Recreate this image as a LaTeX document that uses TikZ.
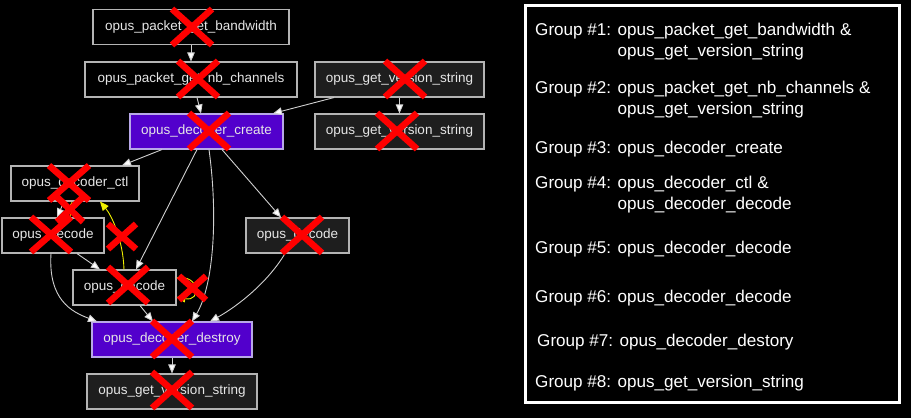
\documentclass[tikz,border=0pt]{standalone}
\usepackage{fontspec}
\setmainfont{Liberation Sans}
\usetikzlibrary{arrows.meta}
\definecolor{nodeborder}{HTML}{B4B4B4}
\definecolor{nodetext}{HTML}{E6E6E6}
\definecolor{darkfill}{HTML}{1E1E1E}
\definecolor{purplefill}{HTML}{5200CC}
\definecolor{purpleborder}{HTML}{B8A8E8}
\definecolor{edgegray}{HTML}{D0D0D0}
\definecolor{edgeyellow}{HTML}{F0F000}
\definecolor{crossred}{HTML}{FF0000}
\begin{document}
\begin{tikzpicture}[x=1pt,y=-1pt,
  fn/.style={draw=nodeborder, line width=1.1pt, fill=black, text=nodetext,
    font=\fontsize{13.5}{16}\selectfont, inner sep=0pt, minimum height=35pt},
  dark/.style={fn, fill=darkfill},
  purp/.style={fn, fill=purplefill, draw=purpleborder},
  edge/.style={draw=edgegray, line width=0.9pt,
    -{Triangle[width=7.5pt,length=9pt,fill=white]}},
  yedge/.style={draw=edgeyellow, line width=0.9pt,
    -{Triangle[width=7.5pt,length=9pt,fill=edgeyellow]}},
  xmark/.style={draw=crossred, line width=6.5pt},
  glabel/.style={text=white, font=\fontsize{17.1}{20}\selectfont, anchor=base west, inner sep=0pt}
]
\fill[black] (0,0) rectangle (911,418);
\useasboundingbox (0,0) rectangle (911,418);

% graph nodes
\node[fn,   minimum width=196pt] (bw)  at (191,27)    {opus\_packet\_get\_bandwidth};
\node[fn,   minimum width=212pt] (nb)  at (191,79.5)  {opus\_packet\_get\_nb\_channels};
\node[dark, minimum width=169pt] (v1)  at (399.5,79.5){opus\_get\_version\_string};
\node[purp, minimum width=153pt] (cr)  at (206.5,131.5){opus\_decoder\_create};
\node[dark, minimum width=169pt] (v2)  at (399.5,131.5){opus\_get\_version\_string};
\node[fn,   minimum width=128pt] (ctl) at (75,183.5)  {opus\_decoder\_ctl};
\node[fn,   minimum width=102pt] (dl)  at (53,235.5)  {opus\_decode};
\node[dark, minimum width=103pt] (dr)  at (297.5,235.5){opus\_decode};
\node[fn,   minimum width=103pt] (dm)  at (124.5,287.5){opus\_decode};
\node[purp, minimum width=160pt] (ds)  at (172,339.5) {opus\_decoder\_destroy};
\node[dark, minimum width=170pt] (vb)  at (172,391.5) {opus\_get\_version\_string};

% edges
\draw[edge] (bw.south) -- (nb.north);
\draw[edge] ([xshift=6pt]nb.south) -- ([xshift=-5.5pt]cr.north);
\draw[edge] ([xshift=-65.5pt]v1.south) -- ([xshift=66.5pt]cr.north);
\draw[edge] (v1.south) -- (v2.north);
\draw[edge] ([xshift=-44.5pt]cr.south) -- ([xshift=47pt]ctl.north);
\draw[edge] ([xshift=-11pt]ctl.south) -- ([xshift=4pt]dl.north);
\draw[edge] ([xshift=-9.5pt]cr.south) -- ([xshift=11.5pt]dm.north);
\draw[edge] ([xshift=15.5pt]cr.south) -- ([xshift=-16.5pt]dr.north);
\draw[edge] ([xshift=2.5pt]cr.south) .. controls (218,215) and (214,285) .. ([xshift=20pt]ds.north);
\draw[edge] ([xshift=24pt]dl.south) -- ([xshift=-24.5pt]dm.north);
\draw[edge] ([xshift=-2pt]dl.south) .. controls (48,300) and (72,312) .. ([xshift=-75pt]ds.north);
\draw[edge] ([xshift=15.5pt]dm.south) -- ([xshift=-19pt]ds.north);
\draw[edge] ([xshift=-12.5pt]dr.south) .. controls (268,282) and (238,306) .. ([xshift=38pt]ds.north);
\draw[edge] (ds.south) -- (vb.north);
\draw[yedge] ([xshift=-0.5pt]dm.north) .. controls (123,240) and (112,216) .. ([xshift=25pt]ctl.south);
\draw[yedge] ([xshift=17pt]dl.north) -- ([xshift=-3pt]ctl.south);
\draw[yedge] ([yshift=9.5pt]dm.east) .. controls (200,274) and (202,302) .. ([yshift=-9.5pt]dm.east);

% red crosses
\foreach \cx/\cy/\hw/\hh in {192/27/20/18, 198/79/20/18, 405/79/20/18, 209/131/20/18,
  397/131/20/18, 69/183/20/17.5, 70/209.5/13/12.5, 51/234.5/20/17.5, 122/236.5/14/12.5,
  128/285/20/18, 192.5/288/13.5/12, 302/235/20/18, 172/339/20/18, 172/390/20/18}
  \draw[xmark, shift={(\cx,\cy)}] (-\hw,-\hh) -- (\hw,\hh) (-\hw,\hh) -- (\hw,-\hh);

% legend panel
\node[draw=white, line width=3pt, fill=black, minimum width=374pt, minimum height=397pt, inner sep=0pt] (panel) at (712,203.5) {};
\node[glabel] (g1)  at (535,35)  {Group \#1: opus\_packet\_get\_bandwidth \&};
\node[glabel] (g1b) at (617.5,56)  {opus\_get\_version\_string};
\node[glabel] (g2)  at (535,93)  {Group \#2: opus\_packet\_get\_nb\_channels \&};
\node[glabel] (g2b) at (617.5,114) {opus\_get\_version\_string};
\node[glabel] (g3)  at (535,153) {Group \#3: opus\_decoder\_create};
\node[glabel] (g4)  at (535,188) {Group \#4: opus\_decoder\_ctl \&};
\node[glabel] (g4b) at (617.5,209) {opus\_decoder\_decode};
\node[glabel] (g5)  at (535,253) {Group \#5: opus\_decoder\_decode};
\node[glabel] (g6)  at (535,302) {Group \#6: opus\_decoder\_decode};
\node[glabel] (g7)  at (537,346) {Group \#7: opus\_decoder\_destory};
\node[glabel] (g8)  at (535,387) {Group \#8: opus\_get\_version\_string};
\end{tikzpicture}
\end{document}
